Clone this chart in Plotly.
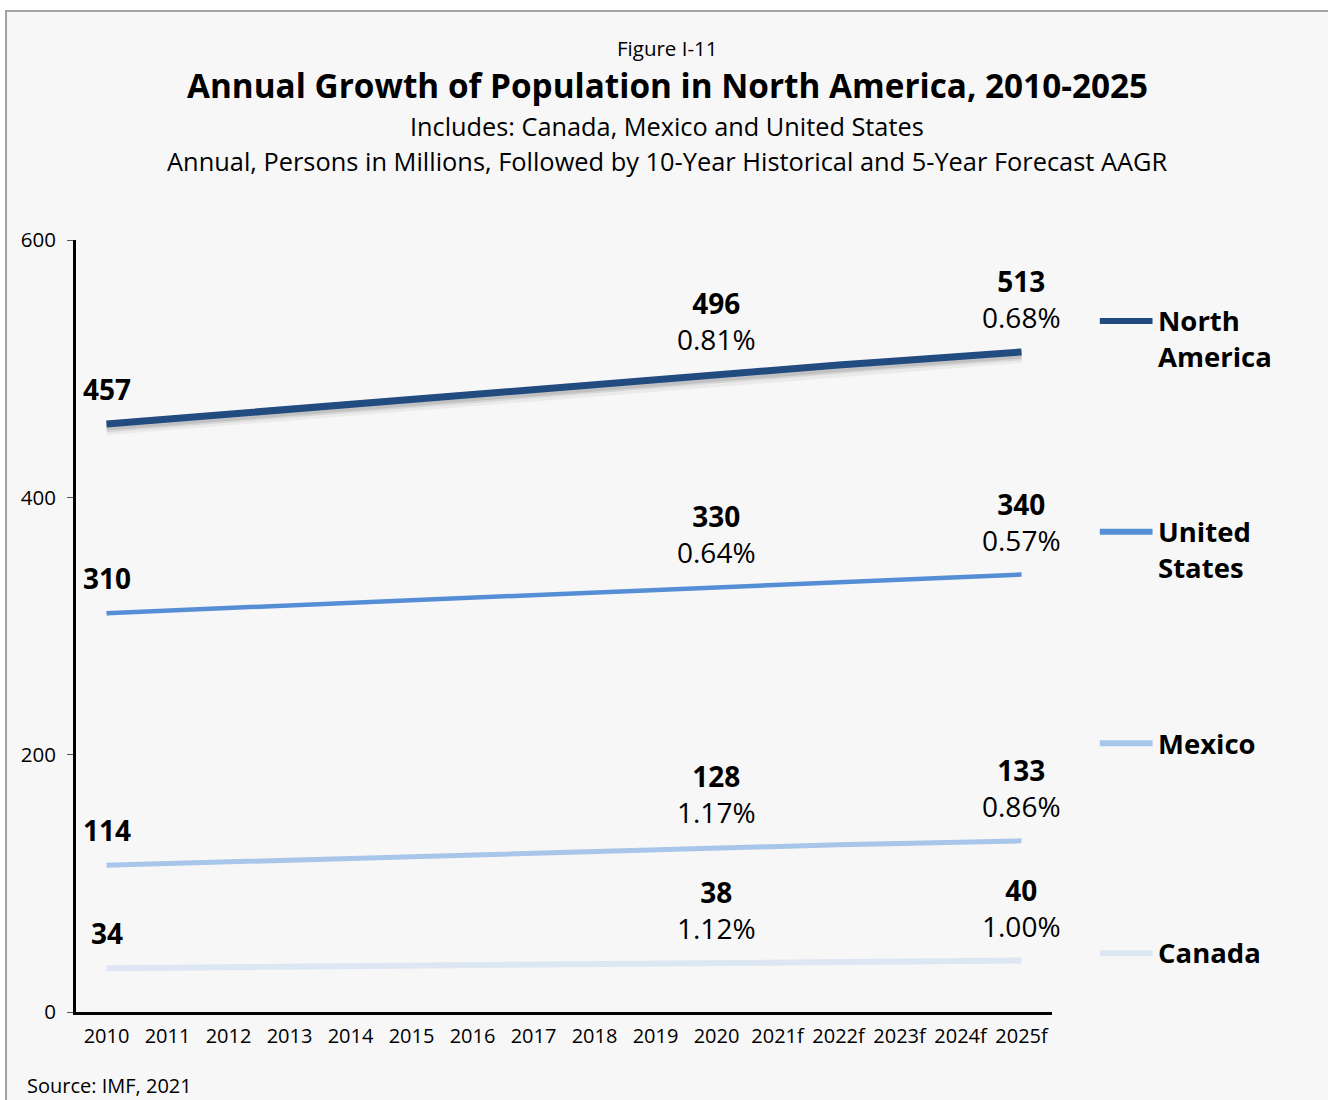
import plotly.graph_objects as go

# Years on the category axis (f = forecast)
years = ["2010", "2011", "2012", "2013", "2014", "2015", "2016", "2017",
         "2018", "2019", "2020", "2021f", "2022f", "2023f", "2024f", "2025f"]

# Population, persons in millions
north_america = [457, 460.9, 464.8, 468.7, 472.6, 476.5, 480.4, 484.3, 488.2, 492.1, 496,
                 499.4, 502.8, 506.2, 509.6, 513]
united_states = [310, 312, 314, 316, 318, 320, 322, 324, 326, 328, 330,
                 332, 334, 336, 338, 340]
mexico = [114, 115.4, 116.8, 118.2, 119.6, 121, 122.4, 123.8, 125.2, 126.6, 128,
          129, 130, 131, 132, 133]
canada = [34, 34.4, 34.8, 35.2, 35.6, 36, 36.4, 36.8, 37.2, 37.6, 38,
          38.4, 38.8, 39.2, 39.6, 40]

# 10-year historical AAGR (to 2020) and 5-year forecast AAGR (to 2025f)
aagr_hist = {"North America": "0.81%", "United States": "0.64%", "Mexico": "1.17%", "Canada": "1.12%"}
aagr_fcst = {"North America": "0.68%", "United States": "0.57%", "Mexico": "0.86%", "Canada": "1.00%"}

y_ticks = [0, 200, 400, 600]

FONT = "Open Sans"
series = [
    ("North America", north_america, "#224b80", 7),
    ("United States", united_states, "#568ed6", 4.5),
    ("Mexico", mexico, "#a8c5ea", 5),
    ("Canada", canada, "#dde7f4", 6),
]

fig = go.Figure()

# soft drop shadow under the North America line
for w, a, off in [(14, 0.05, 3.2), (10, 0.08, 2.6), (8, 0.10, 2.0)]:
    fig.add_trace(go.Scatter(
        x=years, y=[v - off for v in north_america], mode="lines",
        line=dict(color=f"rgba(0,0,0,{a})", width=w), hoverinfo="skip", showlegend=False))

for name, vals, color, width in series:
    fig.add_trace(go.Scatter(
        x=years, y=vals, mode="lines", name=name,
        line=dict(color=color, width=width), showlegend=False))

annotations = []
label_font = dict(family=FONT, size=28, color="#000000")
for name, vals, color, width in series:
    annotations.append(dict(
        x=0, y=vals[0], xref="x", yref="y", text=f"<b>{vals[0]:.0f}</b>",
        showarrow=False, xanchor="center", yanchor="bottom", yshift=14, font=label_font))
    annotations.append(dict(
        x=10, y=vals[10], xref="x", yref="y",
        text=f"<b>{vals[10]:.0f}</b><br>{aagr_hist[name]}",
        showarrow=False, xanchor="center", yanchor="bottom", yshift=14, font=label_font))
    annotations.append(dict(
        x=15, y=vals[15], xref="x", yref="y",
        text=f"<b>{vals[15]:.0f}</b><br>{aagr_fcst[name]}",
        showarrow=False, xanchor="center", yanchor="bottom", yshift=14, font=label_font))

# custom legend on the right
legend_rows = [
    ("North<br>America", "#224b80", 0.895),
    ("United<br>States", "#568ed6", 0.622),
    ("Mexico", "#a8c5ea", 0.348),
    ("Canada", "#dde7f4", 0.076),
]
shapes = [
    # card background and frame
    dict(type="rect", xref="paper", yref="paper", x0=-0.0717, x1=1.40, y0=-0.30, y1=1.2966,
         fillcolor="#f7f7f7", line=dict(color="#a3a3a3", width=2), layer="below"),
]
for text, color, yy in legend_rows:
    shapes.append(dict(type="line", xref="paper", yref="paper", x0=1.049, x1=1.103, y0=yy, y1=yy,
                       line=dict(color=color, width=6)))
    annotations.append(dict(x=1.107, y=yy + 0.027, xref="paper", yref="paper", text=f"<b>{text}</b>",
                            showarrow=False, xanchor="left", yanchor="top", align="left",
                            font=dict(family=FONT, size=27.5, color="#000000")))

# titles
def page_y(py):
    return (1012 - py) / 772

title_x = (667 - 76) / 976
annotations += [
    dict(x=title_x, y=page_y(48), xref="paper", yref="paper", text="Figure I-11", showarrow=False,
         xanchor="center", yanchor="middle", font=dict(family=FONT, size=20.5, color="#000000")),
    dict(x=title_x, y=page_y(85), xref="paper", yref="paper",
         text="<b>Annual Growth of Population in North America, 2010-2025</b>", showarrow=False,
         xanchor="center", yanchor="middle", font=dict(family=FONT, size=33.3, color="#000000")),
    dict(x=title_x, y=page_y(126), xref="paper", yref="paper",
         text="Includes: Canada, Mexico and United States", showarrow=False,
         xanchor="center", yanchor="middle", font=dict(family=FONT, size=25.3, color="#000000")),
    dict(x=title_x, y=page_y(161), xref="paper", yref="paper",
         text="Annual, Persons in Millions, Followed by 10-Year Historical and 5-Year Forecast AAGR",
         showarrow=False, xanchor="center", yanchor="middle",
         font=dict(family=FONT, size=25.4, color="#000000")),
    dict(x=(25 - 76) / 976, y=page_y(1085), xref="paper", yref="paper", text="Source: IMF, 2021",
         showarrow=False, xanchor="left", yanchor="middle",
         font=dict(family=FONT, size=20, color="#000000")),
]

fig.update_layout(
    width=1328, height=1100,
    margin=dict(l=76, r=276, t=240, b=88),
    paper_bgcolor="#ffffff", plot_bgcolor="rgba(0,0,0,0)",
    font=dict(family=FONT, color="#000000"),
    showlegend=False,
    annotations=annotations, shapes=shapes,
    xaxis=dict(type="category", range=[-0.5, 15.5], showgrid=False, zeroline=False,
               showline=True, linecolor="#000000", linewidth=3, ticks="",
               tickfont=dict(family=FONT, size=20, color="#000000"), ticklabelstandoff=4),
    yaxis=dict(range=[0, 600], tickvals=y_ticks, showgrid=False, zeroline=False,
               showline=True, linecolor="#000000", linewidth=3, ticks="outside", ticklen=6,
               tickcolor="#555555", tickwidth=1,
               tickfont=dict(family=FONT, size=20.5, color="#000000"), ticklabelstandoff=7),
)

fig.write_html("out.html")
